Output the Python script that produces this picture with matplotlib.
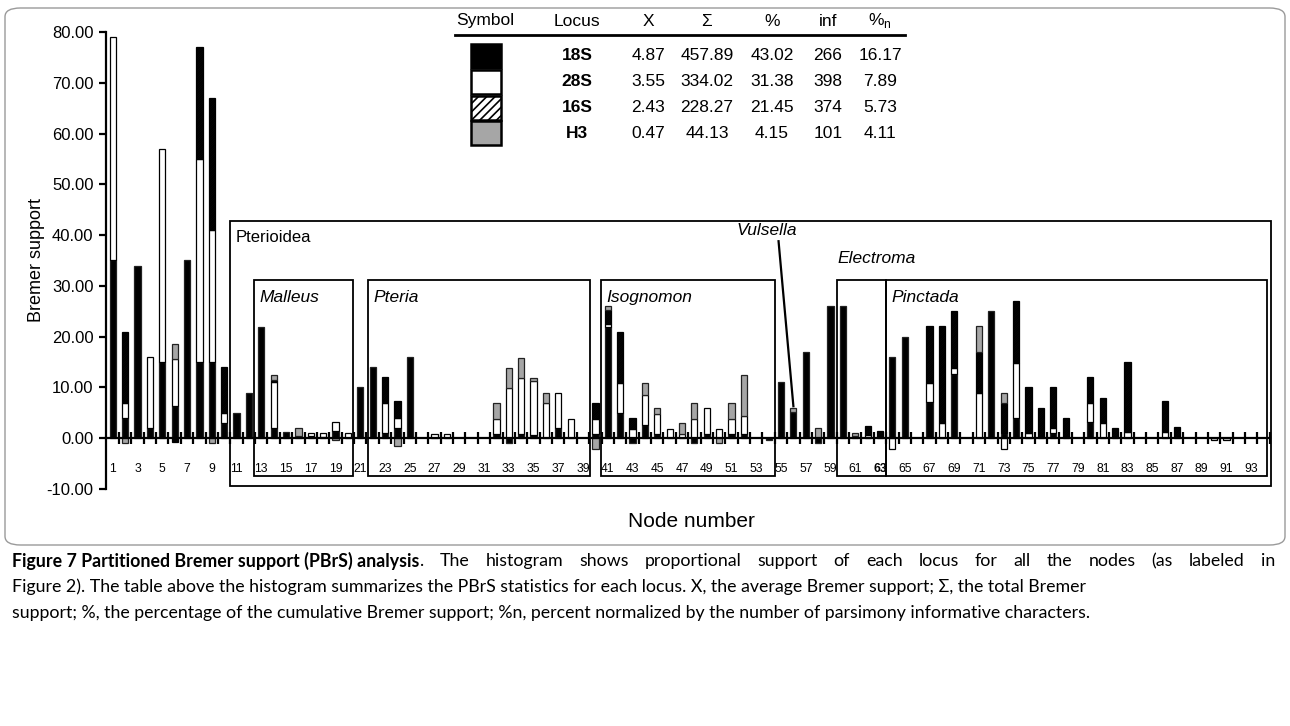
import numpy as np
import matplotlib
matplotlib.use("Agg")
import matplotlib.pyplot as plt
from matplotlib.patches import Rectangle, FancyBboxPatch

plt.rcParams['font.family'] = ['Liberation Sans', 'DejaVu Sans']
plt.rcParams['hatch.linewidth'] = 1.2

# per-node partitioned Bremer support, nodes 1..93
nodes = np.arange(1, 94)
s18 = [35, 4, 34, 2, 15, 6.3, 35, 15, 15, 3,
       5, 9, 22, 2, 1.2, 0.5, 0.5, 0.3, 1.5, 0,
       10, 14, 1, 2, 16, 0, 0, 0, 0, 0,
       0, 0.9, -1, 0.9, 0.6, 0, 2, 0, 0, 0.9,
       22, 4.9, -1, 2.6, 0.9, 0, 0, -1, 0.9, 0,
       0.9, 0.9, 0, -0.3, 11, 5.1, 17, -1, 26, 26,
       0.4, 0, 0, 16, 20, 0, 7.1, 0, 12.6, 0,
       0, 25, 1.1, 4, 0, 0, 1.1, 0, 0, 3.1,
       0, 0, 0, 0, 0, 0, 0, 0, 0, 0,
       0, 0, 0]
s28 = [44, 3, 0, 14, 42, 9.3, 0, 40, 26, 2,
       0, 0, 0, 9, 0, 0, 0.5, 0.7, 1.7, 1,
       0, 0, 6, 2, 0, 0, 0.9, 0.9, 0, 0,
       0, 2.9, 9.9, 10.9, 10.6, 6.9, 6.9, 3.8, 0, 2.9,
       0.5, 5.9, 1.8, 5.9, 3.9, 1.9, 0.9, 3.8, 5, 1.9,
       2.9, 3.5, 0, 0, 0, 0, 0, 0, 0, 0,
       0, 0.7, 0.5, -2.1, 0, 0, 3.8, 2.9, 1.15, 0,
       9, 0, -2.1, 10.8, 1.1, 0, 0.9, 0, 0, 3.9,
       2.9, 0, 1.2, 0, 0, 1.2, 0, 0, 0, -0.4,
       -0.4, 0, 0]
s16 = [0, 14, 0, 0, 0, -0.7, 0, 22, 26, 9,
       0, 0, 0, 0.5, 0, 0, 0, 0, 0, 0,
       0, 0, 5, 3.3, 0, 0, 0, 0, 0, 0,
       0, 0, 0, 0, 0, 0, 0, 0, 0, 3.1,
       2.8, 10.2, 2.1, 0, 0, 0, 0, 0, 0, 0,
       0, 0, 0, 0, 0, 0, 0, 0, 0, 0,
       0, 1.8, 0.9, 0, 0, 0, 11.2, 19.2, 11.25, 0,
       8, 0, 5.9, 12.2, 8.9, 6, 8, 4, 0, 5.1,
       5.1, 2.1, 13.8, 0, 0, 6.1, 2.2, 0, 0, 0,
       0, 0, 0]
h3 = [0, -1, 0, 0, 0, 3, 0, 0, -1, 0,
      0, 0, 0, 1, 0, 1.5, 0, 0, -0.3, 0,
      0, 0, 0, -1.5, 0, 0, 0, 0, 0, 0,
      0, 3.1, 4, 4, 0.7, 2, 0, 0, 0, -2.2,
      0.7, 0, 0, 2.4, 1.1, 0, 2, 3.1, 0, -1,
      3.1, 8.1, 0, 0, 0, 0.9, 0, 2.1, 0, 0,
      0.7, 0, 0, 0, 0, 0, 0, 0, 0, 0,
      5.1, 0, 2, 0, 0, 0, 0, 0, 0, 0,
      0, 0, 0, 0, 0, 0, 0, 0, 0, 0,
      0, 0, 0]

# summary table
loci = ['18S', '28S', '16S', 'H3']
col_x = ['4.87', '3.55', '2.43', '0.47']
col_sum = ['457.89', '334.02', '228.27', '44.13']
col_pct = ['43.02', '31.38', '21.45', '4.15']
col_inf = ['266', '398', '374', '101']
col_pctn = ['16.17', '7.89', '5.73', '4.11']

# clade boxes: name, x0, x1
clades = [('Malleus', 12.45, 20.45), ('Pteria', 21.65, 39.55),
          ('Isognomon', 40.45, 54.5), ('Pinctada', 63.5, 94.25)]

styles = [dict(color='black', edgecolor='#222222'),
          dict(color='white', edgecolor='black'),
          dict(color='white', edgecolor='black', hatch='/' * 14),
          dict(color='#a6a6a6', edgecolor='#222222')]

W, H = 1290, 726
fig = plt.figure(figsize=(W / 100, H / 100), dpi=100)


def fx(px):
    return px / W


def fy(py):
    return 1 - py / H


ax = fig.add_axes([fx(106), fy(489), fx(1276 - 106), fy(32) - fy(489)])
ax.set_xlim(0.45, 95)
ax.set_ylim(-10, 80)

pos = np.zeros(len(nodes))
neg = np.zeros(len(nodes))
for vals, st in zip([s18, s28, s16, h3], styles):
    v = np.array(vals, dtype=float)
    m = v != 0
    bot = np.where(v >= 0, pos, neg)
    ax.bar(nodes[m], v[m], bottom=bot[m], width=0.5, linewidth=0.9, zorder=3, **st)
    pos += np.clip(v, 0, None)
    neg += np.clip(v, None, 0)

for s in ['top', 'right']:
    ax.spines[s].set_visible(False)
ax.spines['left'].set_bounds(-10, 80)
ax.spines['left'].set_linewidth(1.6)
ax.spines['bottom'].set_position(('data', 0))
ax.spines['bottom'].set_bounds(0.45, 94.5)
ax.spines['bottom'].set_linewidth(1.6)
ax.spines['bottom'].set_zorder(4)

ax.set_yticks(np.arange(-10, 81, 10))
ax.set_yticklabels(['%.2f' % t for t in np.arange(-10, 81, 10)], fontsize=12)
ax.tick_params(axis='y', direction='out', length=5, width=1.6, pad=4)
ax.set_xticks(np.arange(1.5, 94.6, 1))
ax.set_xticklabels([])
ax.tick_params(axis='x', direction='inout', length=9, width=1.6)
ax.set_ylabel('Bremer support', fontsize=13)
ax.yaxis.set_label_coords(-0.052, 0.5)
ax.set_xlabel('Node number', fontsize=15)
ax.xaxis.set_label_coords(0.5, -0.05)

for n in range(1, 94, 2):
    ax.text(n, -6.0, str(n), ha='center', va='center', fontsize=8.7,
            fontweight='bold' if n == 63 else 'normal')

# clade boxes
ax.add_patch(Rectangle((10.5, -9.4), 94.6 - 10.5, 42.7 + 9.4, fill=False, lw=1.3, zorder=2))
ax.text(10.9, 39.6, 'Pterioidea', fontsize=12, va='center')
for name, x0, x1 in clades:
    ax.add_patch(Rectangle((x0, -7.5), x1 - x0, 31.1 + 7.5, fill=False, lw=1.3, zorder=2))
    ax.text(x0 + 0.4, 27.8, name, fontsize=12.5, style='italic', va='center')
ax.add_patch(Rectangle((59.5, -7.5), 4.0, 31.1 + 7.5, fill=False, lw=1.3, zorder=2))
ax.text(59.6, 35.4, 'Electroma', fontsize=12.5, style='italic', va='center')
ax.text(56.3, 41.0, 'Vulsella', fontsize=12.5, style='italic', va='center', ha='right')
ax.plot([54.8, 56.0], [38.8, 6.3], color='black', lw=1.6, zorder=5)

# table
tcols = [485, 577, 648, 707, 772, 828, 880]
heads = ['Symbol', 'Locus', 'X', 'Σ', '%', 'inf', '%n']
for xp, h in zip(tcols, heads):
    if h == '%n':
        fig.text(fx(xp), fy(21), '%$_{\\mathregular{n}}$', ha='center', va='center', fontsize=12.5)
    else:
        fig.text(fx(xp), fy(21), h, ha='center', va='center', fontsize=12.5)
fig.add_artist(plt.Line2D([fx(455), fx(905)], [fy(35), fy(35)], color='black', lw=2))
rows_y = [56, 82, 108, 133]
for i, ry in enumerate(rows_y):
    st = styles[i]
    fig.add_artist(Rectangle((fx(471), fy(ry + 12)), fx(30), fy(0) - fy(24), transform=fig.transFigure,
                             facecolor=st['color'], edgecolor='black', lw=1.8,
                             hatch='/' * 4 if 'hatch' in st else None))
    fig.text(fx(tcols[1]), fy(ry), loci[i], ha='center', va='center', fontsize=12.5, fontweight='bold')
    for xp, col in zip(tcols[2:], [col_x, col_sum, col_pct, col_inf, col_pctn]):
        fig.text(fx(xp), fy(ry), col[i], ha='center', va='center', fontsize=12.5)

# frame around the figure image
fig.add_artist(FancyBboxPatch((fx(5), fy(545)), fx(1280), fy(8) - fy(545), transform=fig.transFigure,
                              boxstyle='round,pad=0,rounding_size=0.012', fill=False,
                              edgecolor='#9a9a9a', lw=1))

# caption
cap_font = dict(fontsize=12.8, family=['Lato', 'DejaVu Sans'])
t1 = fig.text(fx(12), fy(561), 'Figure 7 Partitioned Bremer support (PBrS) analysis', va='center',
              fontweight='bold', **cap_font)
fig.canvas.draw()
r = fig.canvas.get_renderer()
x_start = t1.get_window_extent(r).x1
words = '. The histogram shows proportional support of each locus for all the nodes (as labeled in'.split(' ')
wtexts = [fig.text(0, fy(561), w, va='center', **cap_font) for w in words]
widths = [t.get_window_extent(r).width for t in wtexts]
gap = (1275 - x_start - sum(widths)) / (len(words) - 1)
xc = x_start
for t, w in zip(wtexts, widths):
    t.set_x(xc / W)
    xc += w + gap
fig.text(fx(12), fy(587), 'Figure 2). The table above the histogram summarizes the PBrS statistics for each locus. X, the average Bremer support; Σ, the total Bremer',
         va='center', **cap_font)
fig.text(fx(12), fy(613), 'support; %, the percentage of the cumulative Bremer support; %n, percent normalized by the number of parsimony informative characters.',
         va='center', **cap_font)

fig.savefig('out.png', dpi=100)
